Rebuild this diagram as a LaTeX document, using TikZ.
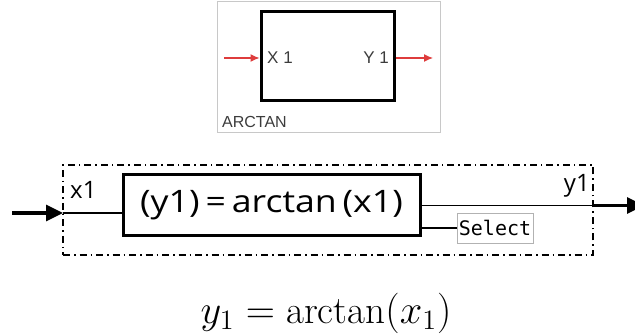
\documentclass[tikz,border=0pt]{standalone}
\usepackage{fontspec}
\newfontfamily\arialfont{Liberation Sans}
\newfontfamily\mainlabel{Open Sans}
\newfontfamily\selfont{DejaVu Sans Mono}
\usetikzlibrary{arrows.meta}
\definecolor{framegray}{RGB}{200,200,200}
\definecolor{sigred}{RGB}{222,60,60}
\definecolor{txtgray}{RGB}{60,60,60}
\tikzset{
  redsig/.style={draw=sigred, line width=1.2pt, -{Latex[length=9pt,width=8pt]}},
  toplabel/.style={font=\arialfont\fontsize{17}{17}\selectfont, text=txtgray, inner sep=0pt},
  dashdotbox/.style={draw, line width=1.3pt, dash pattern=on 7pt off 4pt on 1.5pt off 4pt},
  thickbox/.style={draw, line width=3pt, inner sep=0pt},
  thinwire/.style={line width=1.4pt},
  bigarrow/.style={line width=3.2pt, -{Triangle[length=17pt,width=16pt]}},
  sigtext/.style={font=\mainlabel\fontsize{24}{24}\selectfont, inner sep=0pt}
}
\begin{document}
\begin{tikzpicture}[x=1pt,y=-1pt]
\useasboundingbox (0,0) rectangle (635,336);
\clip (0,0) rectangle (635,336);
% ---- top symbol ----
\node[draw=framegray, line width=0.8pt, minimum width=223pt, minimum height=131pt, inner sep=0pt] (topframe) at (328.5,66.5) {};
\node[thickbox, minimum width=133pt, minimum height=89pt] (topbox) at (327.5,56.5) {};
\coordinate (redin) at (224,58);
\coordinate (redout) at (433,58);
\draw[redsig] (redin) -- (topbox.west |- redin);
\draw[redsig] (topbox.east |- redout) -- (redout);
\node[toplabel, anchor=west] (lx) at (267,58) {X 1};
\node[toplabel, anchor=east] (ly) at (389,58) {Y 1};
\node[toplabel, font=\arialfont\fontsize{16}{16}\selectfont, anchor=south west] (lname) at (222,128) {ARCTAN};
% ---- bottom block ----
\node[dashdotbox, minimum width=530pt, minimum height=90pt, inner sep=0pt] (group) at (328,210) {};
\node[thickbox, minimum width=297pt, minimum height=61pt, font=\mainlabel\fontsize{31}{31}\selectfont] (fn) at (271.5,205.5) {\scalebox{1.15}[1]{(y1)\,=\,arctan\,(x1)}};
\node[draw=gray!60, line width=0.8pt, minimum width=76pt, minimum height=30pt, inner sep=0pt, font=\selfont\fontsize{20}{20}\selectfont] (sel) at (495,228) {Select};
\coordinate (in) at (12,213);
\coordinate (gin) at (63,213);
\coordinate (gout) at (593,205.5);
\coordinate (out) at (644,205.5);
\draw[bigarrow] (in) -- (gin);
\draw[thinwire] (gin) -- (fn.west |- gin);
\draw[thinwire] (fn.east) -- (gout);
\draw[bigarrow] (gout) -- (out);
\draw[thinwire] (fn.east |- sel) -- (sel.west);
\node[sigtext, anchor=south west] (x1) at (70,199) {x1};
\node[sigtext, anchor=south east] (y1) at (590,197) {y1};
% ---- formula ----
\node[font=\fontsize{20}{20}\selectfont, inner sep=0pt] (eq) at (326,313) {\scalebox{1.95}{$y_1 = \arctan(x_1)$}};
\end{tikzpicture}
\end{document}
